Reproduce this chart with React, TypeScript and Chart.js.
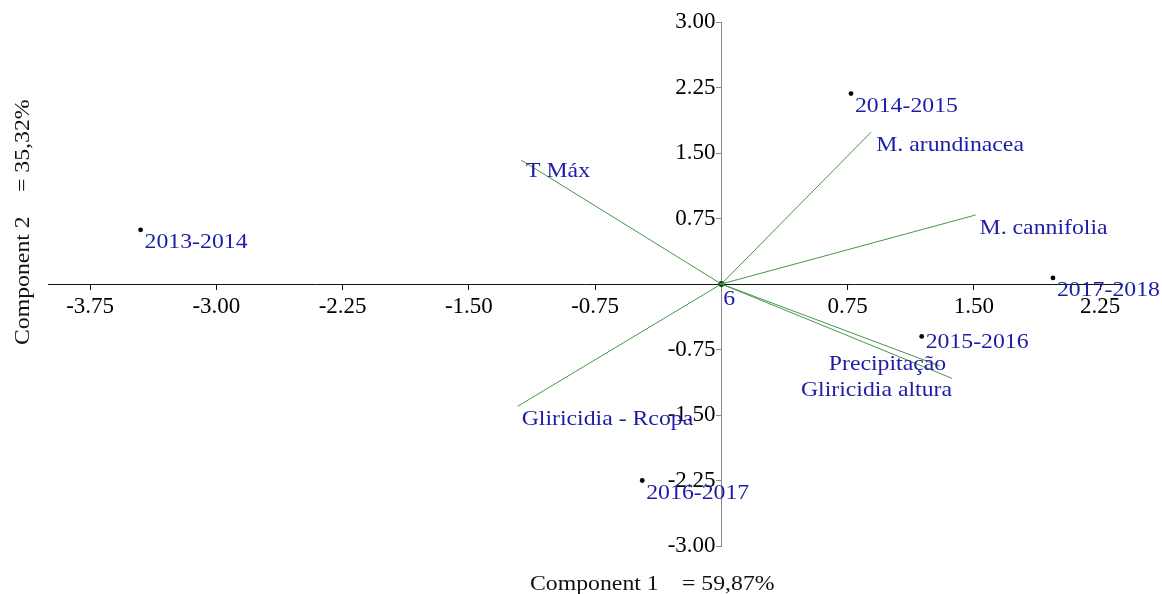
import React, { useEffect, useRef } from 'react';
import { Chart, registerables } from 'chart.js';

Chart.register(...registerables);

// ---- data ----
const scoreLabels = ['2013-2014', '2014-2015', '2015-2016', '2016-2017', '2017-2018', '6'];
const scoreX = [-3.45, 0.77, 1.19, -0.47, 1.97, 0];
const scoreY = [0.62, 2.18, -0.6, -2.25, 0.07, 0];

const loadingLabels = ['T Máx', 'M. arundinacea', 'M. cannifolia', 'Precipitação', 'Gliricidia altura', 'Gliricidia - Rcopa'];
const loadingX = [-1.19, 0.89, 1.51, 1.3, 1.37, -1.21];
const loadingY = [1.42, 1.74, 0.79, -0.94, -1.08, -1.4];

const xTicks = [-3.75, -3.0, -2.25, -1.5, -0.75, 0.75, 1.5, 2.25];
const yTicks = [-3.0, -2.25, -1.5, -0.75, 0.75, 1.5, 2.25, 3.0];
const xRange = [-4.0, 2.38];
const yRange = [-3.0, 3.0];

const xTitleParts = ['Component 1', '= 59,87%'];
const yTitleParts = ['Component 2', '= 35,32%'];

// ---- styles (label offsets in px relative to the mark) ----
const scoreLabelStyle: [number, number, CanvasTextAlign][] = [
  [4, 18.5, 'left'],
  [4, 18.5, 'left'],
  [4, 12, 'left'],
  [4, 18.5, 'left'],
  [4, 18.5, 'left'],
  [2, 21, 'left'],
];
const loadingLabelStyle: [number, number, CanvasTextAlign][] = [
  [5, 17, 'left'],
  [5, 18.5, 'left'],
  [4, 18.5, 'left'],
  [6, 4, 'right'],
  [0, 18, 'right'],
  [4, 19, 'left'],
];

const SERIF = "'Liberation Serif', 'Times New Roman', serif";
const LABEL_COLOR = '#1c1ca6';
const VECTOR_COLOR = 'rgb(70,150,70)';
const TEXT_SIZE = 22;
const STRETCH = 1.08;

function drawStretched(ctx: CanvasRenderingContext2D, text: string, x: number, y: number, align: CanvasTextAlign, rotate = 0) {
  ctx.save();
  ctx.translate(x, y);
  if (rotate) ctx.rotate(rotate);
  ctx.scale(STRETCH, 1);
  ctx.textAlign = align;
  ctx.fillText(text, 0, 0);
  ctx.restore();
}

const labelPlugin = {
  id: 'biplotLabels',
  afterDatasetsDraw(chart: any) {
    const { ctx, scales } = chart;
    const xs = scales.x;
    const ys = scales.y;
    ctx.save();
    ctx.font = `${TEXT_SIZE}px ${SERIF}`;
    ctx.textBaseline = 'alphabetic';
    ctx.fillStyle = LABEL_COLOR;
    scoreLabels.forEach((t, i) => {
      const [dx, dy, al] = scoreLabelStyle[i];
      drawStretched(ctx, t, xs.getPixelForValue(scoreX[i]) + dx, ys.getPixelForValue(scoreY[i]) + dy, al);
    });
    loadingLabels.forEach((t, i) => {
      const [dx, dy, al] = loadingLabelStyle[i];
      drawStretched(ctx, t, xs.getPixelForValue(loadingX[i]) + dx, ys.getPixelForValue(loadingY[i]) + dy, al);
    });
    // axis titles
    ctx.fillStyle = '#111';
    drawStretched(ctx, xTitleParts[0], 530, 590, 'left');
    drawStretched(ctx, xTitleParts[1], 682, 590, 'left');
    drawStretched(ctx, yTitleParts[0], 29, 345, 'left', -Math.PI / 2);
    drawStretched(ctx, yTitleParts[1], 29, 192, 'left', -Math.PI / 2);
    ctx.restore();
  },
};

const xTickFmt = (v: any) => (Math.abs(Number(v)) < 1e-9 ? '' : Number(v).toFixed(2));
// y labels sit left of the tick marks: a trailing space gives the gap
const yTickFmt = (v: any) => (Math.abs(Number(v)) < 1e-9 ? '' : Number(v).toFixed(2) + ' ');

export default function App() {
  const ref = useRef<HTMLCanvasElement>(null);

  useEffect(() => {
    const vectorSets = loadingLabels.map((lab, i) => ({
      label: lab,
      data: [
        { x: 0, y: 0 },
        { x: loadingX[i], y: loadingY[i] },
      ],
      showLine: true,
      borderColor: VECTOR_COLOR,
      borderWidth: 1,
      pointRadius: 0,
      fill: false,
    }));
    const pointSet = {
      label: 'scores',
      data: scoreX.map((x, i) => ({ x, y: scoreY[i] })),
      showLine: false,
      pointRadius: scoreLabels.map((l) => (l === '6' ? 3 : 2.4)),
      pointBackgroundColor: scoreLabels.map((l) => (l === '6' ? '#0b3b0b' : '#000')),
      pointBorderWidth: 0,
    };

    const chart = new Chart(ref.current!, {
      type: 'scatter',
      data: { datasets: [...vectorSets, pointSet] as any },
      plugins: [labelPlugin],
      options: {
        responsive: false,
        animation: false,
        events: [],
        layout: { padding: { left: 48, right: 40, top: 22, bottom: 48 } },
        plugins: { legend: { display: false }, tooltip: { enabled: false } },
        scales: {
          x: {
            type: 'linear',
            position: { y: 0 } as any,
            min: xRange[0],
            max: xRange[1],
            afterBuildTicks: (axis: any) => {
              axis.ticks = xTicks.map((value) => ({ value }));
            },
            border: { display: true, color: '#111', width: 1 },
            grid: { display: true, drawOnChartArea: false, drawTicks: true, tickLength: 5, color: '#111' },
            ticks: {
              autoSkip: false,
              maxRotation: 0,
              padding: 4,
              color: '#000',
              font: { family: SERIF, size: 23 },
              callback: xTickFmt,
            },
          },
          y: {
            type: 'linear',
            position: { x: 0 } as any,
            min: yRange[0],
            max: yRange[1],
            afterBuildTicks: (axis: any) => {
              axis.ticks = yTicks.map((value) => ({ value }));
            },
            border: { display: true, color: '#8a8a8a', width: 1 },
            grid: { display: true, drawOnChartArea: false, drawTicks: true, tickLength: 5, color: '#8a8a8a' },
            ticks: {
              autoSkip: false,
              padding: 2,
              color: '#000',
              font: { family: SERIF, size: 23 },
              callback: yTickFmt,
            },
          },
        },
      },
    });
    return () => chart.destroy();
  }, []);

  return (
    <div style={{ position: 'fixed', left: 0, top: 0, width: 1162, height: 594, background: '#fff' }}>
      <canvas ref={ref} width={1162} height={594} style={{ display: 'block', width: 1162, height: 594 }} />
    </div>
  );
}
